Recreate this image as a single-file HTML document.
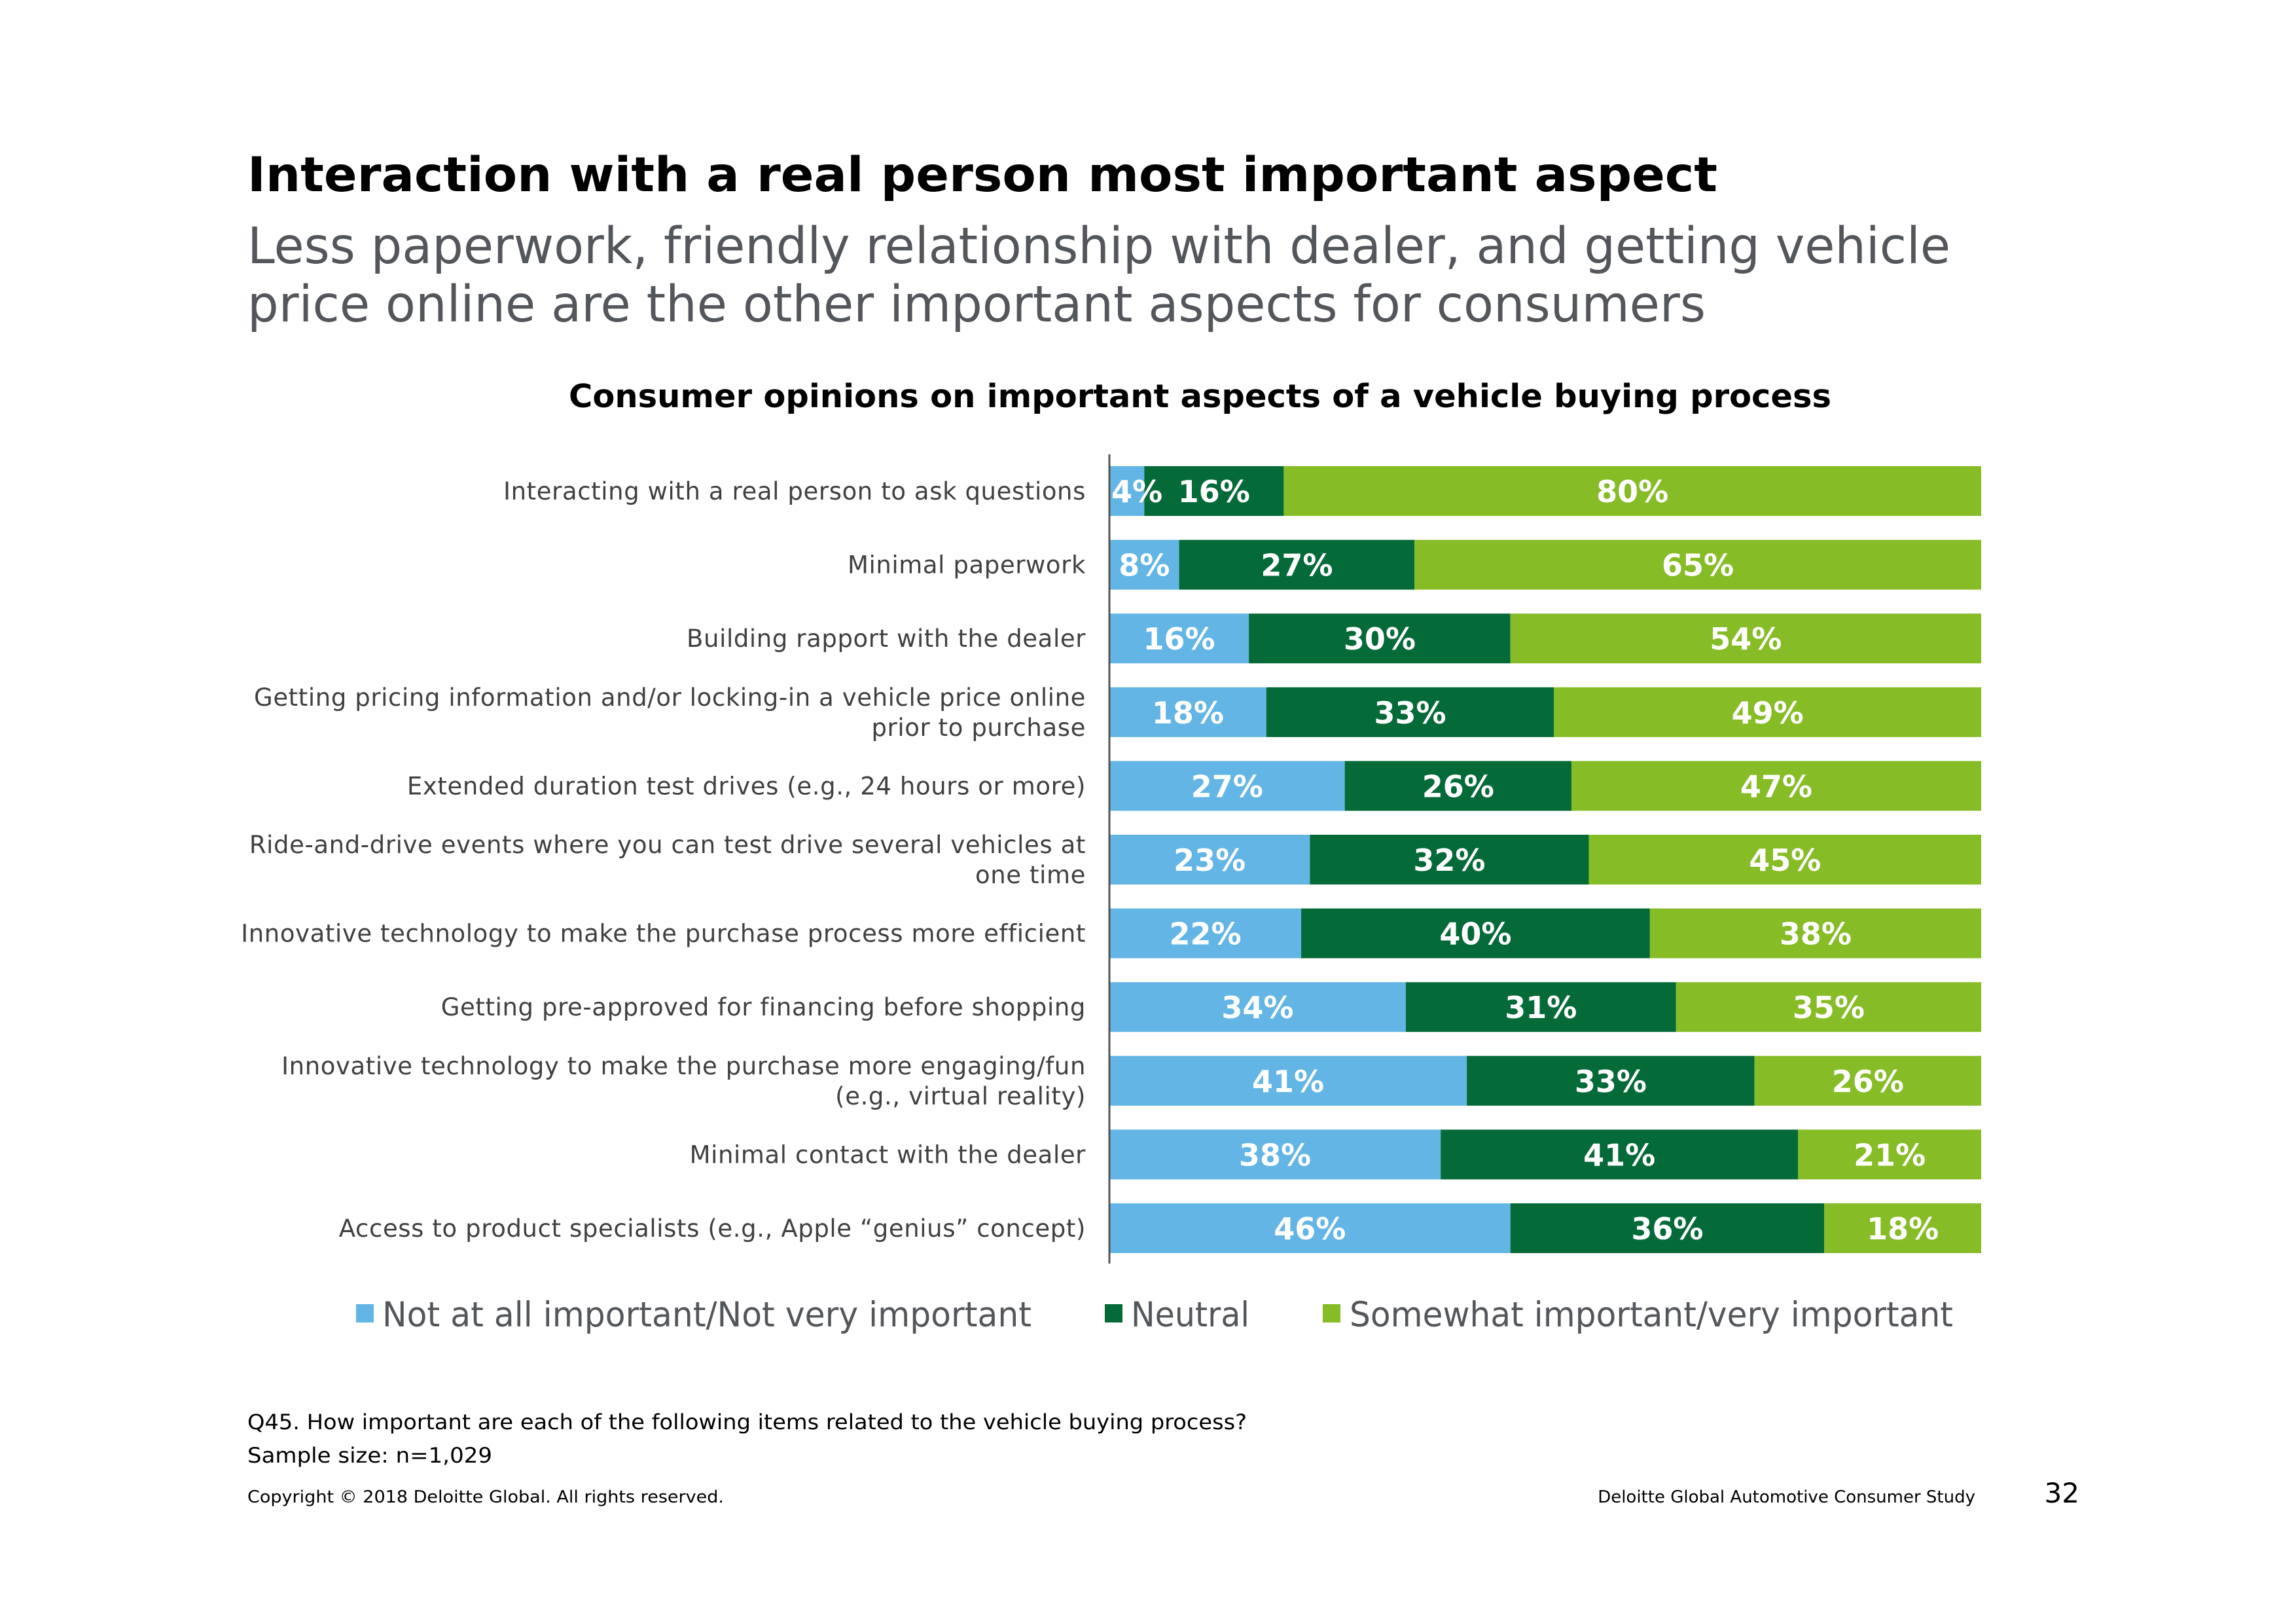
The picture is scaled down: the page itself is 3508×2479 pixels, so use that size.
<!DOCTYPE html>
<html><head><meta charset="utf-8"><style>
html,body{margin:0;padding:0;background:#fff;}
svg{display:block;font-family:"DejaVu Sans","Liberation Sans",sans-serif;}
</style></head><body>
<svg id="chart" width="3508" height="2479" viewBox="0 0 3508 2479" xmlns="http://www.w3.org/2000/svg">
<rect width="3508" height="2479" fill="#fff"/>
<text x="378" y="292" font-size="73" font-weight="bold" fill="#000" textLength="2246" lengthAdjust="spacingAndGlyphs">Interaction with a real person most important aspect</text>
<text x="378" y="402" font-size="77" fill="#53565a" textLength="2602" lengthAdjust="spacingAndGlyphs">Less paperwork, friendly relationship with dealer, and getting vehicle</text>
<text x="378" y="491" font-size="77" fill="#53565a" textLength="2228" lengthAdjust="spacingAndGlyphs">price online are the other important aspects for consumers</text>
<text x="869" y="622" font-size="49" font-weight="bold" fill="#000" textLength="1929" lengthAdjust="spacingAndGlyphs">Consumer opinions on important aspects of a vehicle buying process</text>
<g id="bars"></g>
<line x1="1695" y1="694" x2="1695" y2="1930" stroke="#555" stroke-width="3"/>
<g>
<rect x="544" y="1992" width="27" height="28" fill="#62b5e5"/>
<text x="584" y="2026" font-size="53" fill="#53565a" textLength="992" lengthAdjust="spacingAndGlyphs">Not at all important/Not very important</text>
<rect x="1688" y="1992" width="27" height="28" fill="#046a38"/>
<text x="1728" y="2026" font-size="53" fill="#53565a" textLength="181" lengthAdjust="spacingAndGlyphs">Neutral</text>
<rect x="2021" y="1992" width="27" height="28" fill="#86bc25"/>
<text x="2062" y="2026" font-size="53" fill="#53565a" textLength="922" lengthAdjust="spacingAndGlyphs">Somewhat important/very important</text>
</g>
<text x="378" y="2183" font-size="32" fill="#000" textLength="1527" lengthAdjust="spacingAndGlyphs">Q45. How important are each of the following items related to the vehicle buying process?</text>
<text x="378" y="2234" font-size="32" fill="#000" textLength="374" lengthAdjust="spacingAndGlyphs">Sample size: n=1,029</text>
<text x="378" y="2295" font-size="26" fill="#000" textLength="728" lengthAdjust="spacingAndGlyphs">Copyright © 2018 Deloitte Global. All rights reserved.</text>
<text x="3018" y="2295" font-size="26" fill="#000" text-anchor="end">Deloitte Global Automotive Consumer Study</text>
<text x="3177" y="2295" font-size="42" fill="#000" text-anchor="end">32</text>
</svg>
<script>
const categories = [
  ["Interacting with a real person to ask questions"],
  ["Minimal paperwork"],
  ["Building rapport with the dealer"],
  ["Getting pricing information and/or locking-in a vehicle price online","prior to purchase"],
  ["Extended duration test drives (e.g., 24 hours or more)"],
  ["Ride-and-drive events where you can test drive several vehicles at","one time"],
  ["Innovative technology to make the purchase process more efficient"],
  ["Getting pre-approved for financing before shopping"],
  ["Innovative technology to make the purchase more engaging/fun","(e.g., virtual reality)"],
  ["Minimal contact with the dealer"],
  ["Access to product specialists (e.g., Apple \u201cgenius\u201d concept)"]
];
const notImportant = [4, 8, 16, 18, 27, 23, 22, 34, 41, 38, 46];
const neutral = [16, 27, 30, 33, 26, 32, 40, 31, 33, 41, 36];
const important = [80, 65, 54, 49, 47, 45, 38, 35, 26, 21, 18];
const seriesNames = ["not-important", "neutral", "important"];
const seriesColors = ["#62b5e5", "#046a38", "#86bc25"];

const X0 = 1695, X1 = 3027, ROW0 = 750, PITCH = 112.6, BH = 76;
function xScale(v){ return X0 + (X1 - X0) * v / 100; }
function yCenter(i){ return ROW0 + i * PITCH; }

const NS = "http://www.w3.org/2000/svg";
const g = document.getElementById("bars");
const series = [notImportant, neutral, important];
categories.forEach((lines, i) => {
  const cy = yCenter(i);
  const total = notImportant[i] + neutral[i] + important[i];
  let acc = 0;
  series.forEach((arr, s) => {
    const v = arr[i] * 100 / total;
    const x = xScale(acc), w = xScale(acc + v) - x;
    const r = document.createElementNS(NS, "rect");
    r.setAttribute("x", x); r.setAttribute("y", cy - BH/2);
    r.setAttribute("width", w); r.setAttribute("height", BH);
    r.setAttribute("fill", seriesColors[s]);
    
    
    g.appendChild(r);
    acc += v;
  });
  acc = 0;
  series.forEach((arr, s) => {
    const v = arr[i] * 100 / total;
    const x = xScale(acc), w = xScale(acc + v) - x;
    const t = document.createElementNS(NS, "text");
    const cx = Math.max(x + w/2, x + 42);
    t.setAttribute("x", cx); t.setAttribute("y", cy + 17);
    t.setAttribute("text-anchor", "middle"); t.setAttribute("font-size", "46");
    t.setAttribute("font-weight", "bold"); t.setAttribute("fill", "#fff");
    t.textContent = arr[i] + "%";
    
    
    g.appendChild(t);
    acc += v;
  });
  lines.forEach((ln, k) => {
    const t = document.createElementNS(NS, "text");
    const off = lines.length === 1 ? 13 : (k === 0 ? -10 : 36);
    t.setAttribute("x", 1659); t.setAttribute("y", cy + off);
    t.setAttribute("text-anchor", "end"); t.setAttribute("font-size", "37");
    t.setAttribute("letter-spacing", "0.6");
    t.setAttribute("fill", "#404040");
    t.textContent = ln;
    
    
    g.appendChild(t);
  });
});
</script>
</body></html>
